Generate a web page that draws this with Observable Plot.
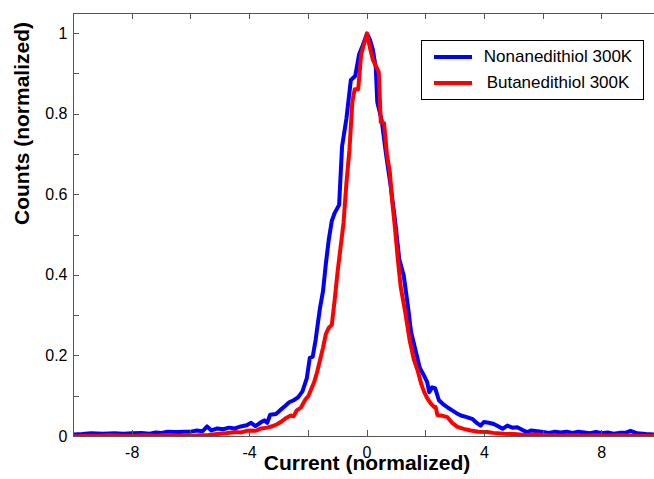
<!DOCTYPE html>
<html>
<head>
<meta charset="utf-8">
<script src="https://cdn.jsdelivr.net/npm/d3@7"></script>
<script src="https://cdn.jsdelivr.net/npm/@observablehq/plot@0.6"></script>
<style>
  html, body { margin: 0; padding: 0; background: #fff; overflow: hidden; }
  #wrap { position: relative; width: 654px; height: 479px; font-family: "Liberation Sans", Arial, sans-serif; }
  #legend { position: absolute; left: 421px; top: 40px; width: 221px; height: 58px; border: 1px solid #000; background: #fff; box-sizing: content-box; }
  .row { position: absolute; left: 0; width: 221px; height: 20px; }
  .sw { position: absolute; left: 12px; width: 38px; height: 4px; top: 8px; }
  .lt { position: absolute; left: 56px; width: 160px; text-align: center; font-size: 17px; line-height: 20px; color: #000; white-space: nowrap; }
</style>
</head>
<body>
<div id="wrap"></div>
<script>
// ---- data ----
const seriesNames = ["Nonanedithiol 300K", "Butanedithiol 300K"];
const seriesColors = ["#0000ff", "#ff0000"];

const nonaneX = [-10,-9.7,-9.4,-9.0,-8.6,-8.3,-8.0,-7.7,-7.4,-7.2,-7.0,-6.8,-6.5,-6.2,-6.0,-5.8,-5.6,-5.45,-5.3,-5.1,-4.9,-4.7,-4.5,-4.3,-4.1,-3.95,-3.8,-3.6,-3.5,-3.4,-3.3,-3.1,-2.95,-2.8,-2.65,-2.5,-2.35,-2.2,-2.05,-1.95,-1.85,-1.75,-1.6,-1.5,-1.4,-1.3,-1.2,-1.1,-0.95,-0.85,-0.7,-0.55,-0.4,-0.27,-0.15,0.0,0.1,0.2,0.3,0.35,0.5,0.65,0.8,0.95,1.1,1.25,1.4,1.5,1.65,1.8,1.95,2.05,2.12,2.22,2.32,2.45,2.6,2.75,2.9,3.05,3.2,3.4,3.6,3.75,3.87,3.98,4.15,4.32,4.5,4.62,4.78,4.95,5.12,5.3,5.46,5.6,5.8,6.0,6.2,6.4,6.6,6.8,7.0,7.2,7.4,7.6,7.8,8.0,8.2,8.4,8.6,8.8,8.98,9.2,9.5,9.8,10];
const nonaneY = [0.005,0.006,0.008,0.007,0.008,0.007,0.008,0.009,0.007,0.010,0.009,0.012,0.011,0.012,0.012,0.015,0.013,0.025,0.015,0.020,0.018,0.022,0.020,0.025,0.028,0.034,0.026,0.036,0.040,0.034,0.054,0.056,0.066,0.075,0.085,0.090,0.097,0.112,0.145,0.195,0.198,0.240,0.320,0.360,0.430,0.490,0.535,0.555,0.575,0.720,0.790,0.885,0.895,0.948,0.970,1.000,0.985,0.960,0.915,0.830,0.785,0.700,0.625,0.540,0.440,0.400,0.320,0.260,0.215,0.170,0.150,0.135,0.110,0.122,0.120,0.090,0.080,0.072,0.065,0.058,0.052,0.048,0.043,0.033,0.027,0.036,0.034,0.031,0.024,0.019,0.027,0.022,0.023,0.016,0.011,0.015,0.013,0.011,0.009,0.012,0.010,0.012,0.009,0.012,0.010,0.008,0.011,0.008,0.010,0.007,0.009,0.009,0.014,0.008,0.006,0.005,0.004];

const butaneX = [-10,-9.6,-9.2,-8.8,-8.4,-8.0,-7.6,-7.2,-6.8,-6.4,-6.0,-5.7,-5.4,-5.1,-4.8,-4.5,-4.3,-4.1,-3.95,-3.8,-3.6,-3.4,-3.2,-3.05,-2.9,-2.75,-2.6,-2.5,-2.4,-2.25,-2.1,-2.0,-1.9,-1.8,-1.7,-1.6,-1.5,-1.4,-1.3,-1.2,-1.1,-1.0,-0.9,-0.8,-0.7,-0.6,-0.5,-0.42,-0.3,-0.2,-0.1,0.0,0.1,0.2,0.3,0.4,0.47,0.58,0.68,0.78,0.85,0.95,1.05,1.15,1.3,1.45,1.6,1.72,1.85,1.95,2.05,2.17,2.3,2.34,2.4,2.55,2.74,2.9,3.08,3.3,3.53,3.8,4.1,4.3,4.67,5.0,5.4,5.8,6.2,6.6,7.0,7.4,7.8,8.2,8.6,9.0,9.4,9.8,10];
const butaneY = [0.000,0.002,0.001,0.003,0.002,0.001,0.003,0.002,0.004,0.002,0.001,0.003,0.004,0.006,0.008,0.011,0.010,0.014,0.015,0.014,0.020,0.022,0.026,0.031,0.038,0.046,0.052,0.050,0.064,0.072,0.092,0.100,0.118,0.135,0.160,0.190,0.220,0.255,0.270,0.277,0.340,0.410,0.470,0.530,0.630,0.710,0.830,0.862,0.862,0.948,0.975,1.000,0.965,0.935,0.920,0.905,0.780,0.778,0.700,0.655,0.590,0.520,0.440,0.370,0.310,0.240,0.190,0.165,0.130,0.110,0.095,0.082,0.072,0.073,0.053,0.052,0.048,0.034,0.024,0.019,0.015,0.012,0.011,0.009,0.007,0.006,0.004,0.005,0.003,0.002,0.003,0.002,0.003,0.002,0.003,0.002,0.001,0.002,0.000];

const xTickValues = [-10,-8,-6,-4,-2,0,2,4,6,8,10];
const xTickLabels = ["", "-8", "", "-4", "", "0", "", "4", "", "8", ""];
const yTickValues = [0,0.1,0.2,0.3,0.4,0.5,0.6,0.7,0.8,0.9,1.0];
const yTickLabels = ["0","","0.2","","0.4","","0.6","","0.8","","1"];
const xLabel = "Current (normalized)";
const yLabel = "Counts (normalized)";

(function draw() {
  const W = 654, H = 479, mL = 73, mR = -6, mT = 13, mB = 43, tickLen = 6;
  const nonane = nonaneX.map((x, i) => ({x, y: nonaneY[i]}));
  const butane = butaneX.map((x, i) => ({x, y: butaneY[i]}));
  const xLab = new Map(xTickValues.map((v, i) => [v, xTickLabels[i]]));
  const yLab = new Map(yTickValues.map((v, i) => [v, yTickLabels[i]]));

  const axisColor = "#555";
  const chart = Plot.plot({
    width: W,
    height: H,
    marginLeft: mL,
    marginRight: mR,
    marginTop: mT,
    marginBottom: mB,
    style: {fontFamily: "'Liberation Sans', Arial, sans-serif", background: "#fff", color: "#000"},
    x: {domain: [-10, 10]},
    y: {domain: [0, 1.05]},
    marks: [
      Plot.line(nonane, {x: "x", y: "y", stroke: seriesColors[0], strokeWidth: 4, clip: true}),
      Plot.line(butane, {x: "x", y: "y", stroke: seriesColors[1], strokeWidth: 4, clip: true}),
      Plot.frame({stroke: axisColor, strokeWidth: 1}),
      Plot.axisY({anchor: "left", ticks: yTickValues, tickSize: 0, tickPadding: 6, tickFormat: d => yLab.get(d) ?? "", fontSize: 16, color: "#000", label: null}),
      Plot.axisX({anchor: "bottom", ticks: xTickValues, tickSize: 0, tickPadding: 10, tickFormat: d => xLab.get(d) ?? "", fontSize: 16, color: "#000", label: null}),
      Plot.text([xLabel], {text: d => d, frameAnchor: "bottom", lineAnchor: "middle", dy: 27, fontSize: 21, fontWeight: "bold", fill: "#000"}),
      Plot.text([yLabel], {text: d => d, frameAnchor: "left", lineAnchor: "middle", dx: -51, rotate: -90, fontSize: 21, fontWeight: "bold", fill: "#000"})
    ]
  });
  chart.style.maxWidth = "none";
  chart.style.overflow = "hidden";

  // inward tick marks on all four sides, placed with Plot's own scales
  const sx = chart.scale("x"), sy = chart.scale("y");
  const fLeft = Math.min(...sx.range), fRight = Math.max(...sx.range);
  const fBottom = Math.max(...sy.range), fTop = Math.min(...sy.range);
  const g = d3.select(chart).append("g").attr("stroke", axisColor).attr("stroke-width", 1).attr("fill", "none");
  yTickValues.forEach(v => {
    const py = Math.round(sy.apply(v)) + 0.5;
    g.append("line").attr("x1", fLeft).attr("x2", fLeft + tickLen).attr("y1", py).attr("y2", py);
    g.append("line").attr("x1", fRight - tickLen).attr("x2", fRight).attr("y1", py).attr("y2", py);
  });
  xTickValues.forEach(v => {
    const px = Math.round(sx.apply(v)) + 0.5;
    g.append("line").attr("x1", px).attr("x2", px).attr("y1", fTop).attr("y2", fTop + tickLen);
    g.append("line").attr("x1", px).attr("x2", px).attr("y1", fBottom - tickLen).attr("y2", fBottom);
  });

  const wrap = document.getElementById("wrap");
  wrap.appendChild(chart);

  // legend (inside axes, top-right)
  const legend = document.createElement("div");
  legend.id = "legend";
  const rowTops = [6, 32];
  seriesNames.forEach((name, i) => {
    const row = document.createElement("div");
    row.className = "row";
    row.style.top = rowTops[i] + "px";
    const sw = document.createElement("div");
    sw.className = "sw";
    sw.style.background = seriesColors[i];
    const lt = document.createElement("div");
    lt.className = "lt";
    lt.textContent = name;
    row.appendChild(sw);
    row.appendChild(lt);
    legend.appendChild(row);
  });
  wrap.appendChild(legend);
})();
</script>
</body>
</html>
